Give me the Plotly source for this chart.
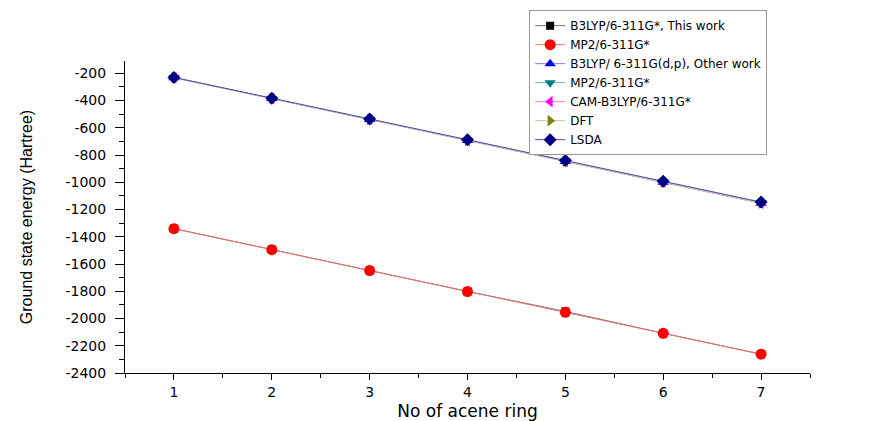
import plotly.graph_objects as go

rings = [1, 2, 3, 4, 5, 6, 7]

b3lyp_this = [-1340, -1494, -1647, -1801, -1948, -2108, -2262]
mp2_this = [-1341, -1495, -1648, -1802, -1955, -2109, -2262]
b3lyp_other = [-232.2, -385.9, -539.6, -693.2, -846.8, -1000.4, -1154.0]
mp2_other = [-231.5, -384.6, -537.7, -690.8, -843.9, -997.0, -1150.1]
cam_b3lyp = [-232.1, -385.8, -539.4, -693.0, -846.6, -1000.2, -1153.8]
dft = [-232.0, -385.6, -539.2, -692.8, -846.4, -999.9, -1153.5]
lsda = [-230.2, -382.7, -535.2, -687.7, -840.2, -992.7, -1145.2]

series_names = [
    "B3LYP/6-311G*, This work",
    "MP2/6-311G*",
    "B3LYP/ 6-311G(d,p), Other work",
    "MP2/6-311G*",
    "CAM-B3LYP/6-311G*",
    "DFT",
    "LSDA",
]
series_values = [b3lyp_this, mp2_this, b3lyp_other, mp2_other, cam_b3lyp, dft, lsda]
marker_colors = ["#000000", "#FF0000", "#0000FF", "#008080", "#FF00FF", "#808000", "#000080"]
line_colors = ["#707070", "#F07070", "#8080FF", "#70B0B0", "#FF70FF", "#C8C8A0", "#5050A0"]
symbols = ["square", "circle", "triangle-up", "triangle-down", "triangle-left", "triangle-right", "diamond"]
marker_sizes = [8, 11, 10, 10, 10, 10, 10]

y_tick_vals = [-200, -400, -600, -800, -1000, -1200, -1400, -1600, -1800, -2000, -2200, -2400]
y_tick_text = ["-200", "-400", "-600", "-800", "-1000", "-1200", "-1400", "-1600", "-1800", "-2000", "-2200", "-2400"]

fig = go.Figure()
for name, vals, mc, lc, sym, ms in zip(series_names, series_values, marker_colors, line_colors, symbols, marker_sizes):
    fig.add_trace(go.Scatter(
        x=rings, y=vals, name=name, mode="lines+markers",
        line=dict(color=lc, width=1),
        marker=dict(symbol=sym, color=mc, size=ms, line=dict(width=0)),
    ))

tick_font = dict(family="DejaVu Sans, Liberation Sans, Arial", size=14, color="#000000")

fig.update_layout(
    width=870, height=413,
    margin=dict(l=117, r=68, t=53, b=48, autoexpand=False),
    paper_bgcolor="white", plot_bgcolor="white",
    showlegend=True,
    legend=dict(
        x=0.59, y=1.163, xanchor="left", yanchor="top",
        bgcolor="white", bordercolor="#999999", borderwidth=1,
        font=dict(family="DejaVu Sans, Liberation Sans, Arial", size=12, color="#000000"),
        tracegroupgap=0,
    ),
    xaxis=dict(
        range=[0.5, 7.5], tickmode="linear", tick0=1, dtick=1,
        showline=True, linecolor="black", linewidth=1, mirror=False,
        showgrid=False, zeroline=False,
        ticks="outside", ticklen=6, tickcolor="black",
        minor=dict(ticks="outside", ticklen=4, dtick=0.5, tick0=0.5, tickcolor="black", showgrid=False),
        tickfont=tick_font,
        title=dict(text="No of acene ring", font=dict(family="DejaVu Sans, Liberation Sans, Arial", size=17, color="#000000"), standoff=8),
    ),
    yaxis=dict(
        range=[-2400, -110],
        tickmode="array", tickvals=y_tick_vals, ticktext=y_tick_text,
        showline=True, linecolor="black", linewidth=1, mirror=False,
        showgrid=False, zeroline=False,
        ticks="outside", ticklen=9, tickcolor="black",
        ticklabelstandoff=6,
        minor=dict(ticks="outside", ticklen=5, dtick=100, tick0=-100, tickcolor="black", showgrid=False),
        tickfont=tick_font,
        title=dict(text="Ground state energy (Hartree)", font=dict(family="Liberation Sans, Arial", size=16, color="#000000"), standoff=28),
    ),
)

fig.write_html("out.html")
